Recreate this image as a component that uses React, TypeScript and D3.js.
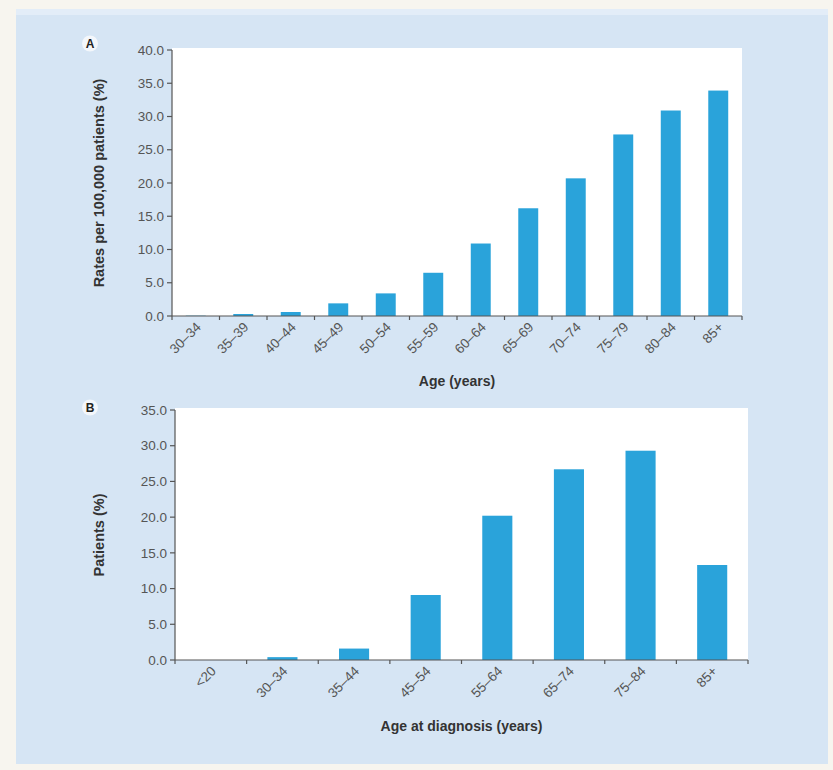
import React, { useEffect } from "react";
import * as d3 from "d3";

const ageGroupsA = ["30–34", "35–39", "40–44", "45–49", "50–54", "55–59", "60–64", "65–69", "70–74", "75–79", "80–84", "85+"];
const ratesA = [0.05, 0.3, 0.6, 1.9, 3.4, 6.5, 10.9, 16.2, 20.7, 27.3, 30.9, 33.9];
const ticksA = [0, 5, 10, 15, 20, 25, 30, 35, 40];

const ageGroupsB = ["<20", "30–34", "35–44", "45–54", "55–64", "65–74", "75–84", "85+"];
const patientsB = [0, 0.4, 1.6, 9.1, 20.2, 26.7, 29.3, 13.3];
const ticksB = [0, 5, 10, 15, 20, 25, 30, 35];

const BAR = "#2aa3da";
const AXIS = "#555";
const FONT = "'Liberation Sans', Arial, sans-serif";

type PanelProps = {
  label: string;
  cats: string[];
  values: number[];
  ticks: number[];
  x0: number;
  x1: number;
  yTop: number;
  yBottom: number;
  yTitle: string;
  xTitle: string;
  xTitleY: number;
  labelY: number;
};

const Panel = (p: PanelProps) => {
  const x = d3.scaleBand().domain(p.cats).range([p.x0, p.x1]).paddingInner(0.58).paddingOuter(0.29);
  const bounds = d3.scaleBand().domain(p.cats).range([p.x0, p.x1]);
  const maxT = p.ticks[p.ticks.length - 1];
  const y = d3.scaleLinear().domain([0, maxT]).range([p.yBottom, p.yTop]);
  const fmt = d3.format(".1f");
  const boundaries = p.cats.map(c => (bounds(c) as number)).concat([p.x1]);

  return (
    <g fontFamily={FONT}>
      <rect x={p.x0} y={p.yTop - 2} width={p.x1 - p.x0} height={p.yBottom - p.yTop + 2} fill="#fff" />
      {p.cats.map((c, i) => (
        <rect key={c} x={x(c)} y={y(p.values[i])} width={x.bandwidth()} height={p.yBottom - y(p.values[i])} fill={BAR} />
      ))}
      {/* y axis */}
      <line x1={p.x0} x2={p.x0} y1={p.yTop} y2={p.yBottom} stroke={AXIS} strokeWidth={1.2} />
      {p.ticks.map(t => (
        <g key={t} transform={`translate(${p.x0},${y(t)})`}>
          <line x1={-5} x2={0} stroke={AXIS} strokeWidth={1.2} />
          <text x={-8} dy="0.35em" textAnchor="end" fontSize={13.5} fill="#555">{fmt(t)}</text>
        </g>
      ))}
      {/* x axis */}
      <line x1={p.x0} x2={p.x1} y1={p.yBottom} y2={p.yBottom} stroke={AXIS} strokeWidth={1.2} />
      {boundaries.map((b, i) => (
        <line key={i} x1={b} x2={b} y1={p.yBottom} y2={p.yBottom + 4} stroke={AXIS} strokeWidth={1.2} />
      ))}
      {p.cats.map(c => {
        const cx = (x(c) as number) + x.bandwidth() / 2;
        return (
          <text key={c} transform={`translate(${cx + 6},${p.yBottom + 12}) rotate(-45)`} textAnchor="end" fontSize={13.5} fill="#555">{c}</text>
        );
      })}
      <text x={(p.x0 + p.x1) / 2} y={p.xTitleY} textAnchor="middle" fontSize={14} fontWeight="bold" fill="#333">{p.xTitle}</text>
      <text transform={`translate(104,${(p.yTop + p.yBottom) / 2}) rotate(-90)`} textAnchor="middle" fontSize={14.5} fontWeight="bold" fill="#333">{p.yTitle}</text>
      <circle cx={90} cy={p.labelY - 4.5} r={8} fill="#f4f7fb" />
      <text x={90} y={p.labelY} textAnchor="middle" fontSize={12} fontWeight="bold" fill="#222">{p.label}</text>
    </g>
  );
};

export default function App() {
  useEffect(() => {
    document.body.style.margin = "0";
  }, []);
  return (
    <svg width={833} height={770} style={{ display: "block" }}>
      <rect x={0} y={0} width={833} height={770} fill="#f7f5ef" />
      <rect x={16} y={9} width={812} height={755} fill="#d6e5f4" />
      <rect x={16} y={9} width={812} height={6} fill="#e3edf8" />
      <Panel
        label="A"
        cats={ageGroupsA}
        values={ratesA}
        ticks={ticksA}
        x0={172}
        x1={742}
        yTop={50}
        yBottom={316}
        yTitle="Rates per 100,000 patients (%)"
        xTitle="Age (years)"
        xTitleY={386}
        labelY={48}
      />
      <Panel
        label="B"
        cats={ageGroupsB}
        values={patientsB}
        ticks={ticksB}
        x0={175}
        x1={748}
        yTop={410}
        yBottom={660}
        yTitle="Patients (%)"
        xTitle="Age at diagnosis (years)"
        xTitleY={731}
        labelY={412}
      />
    </svg>
  );
}
